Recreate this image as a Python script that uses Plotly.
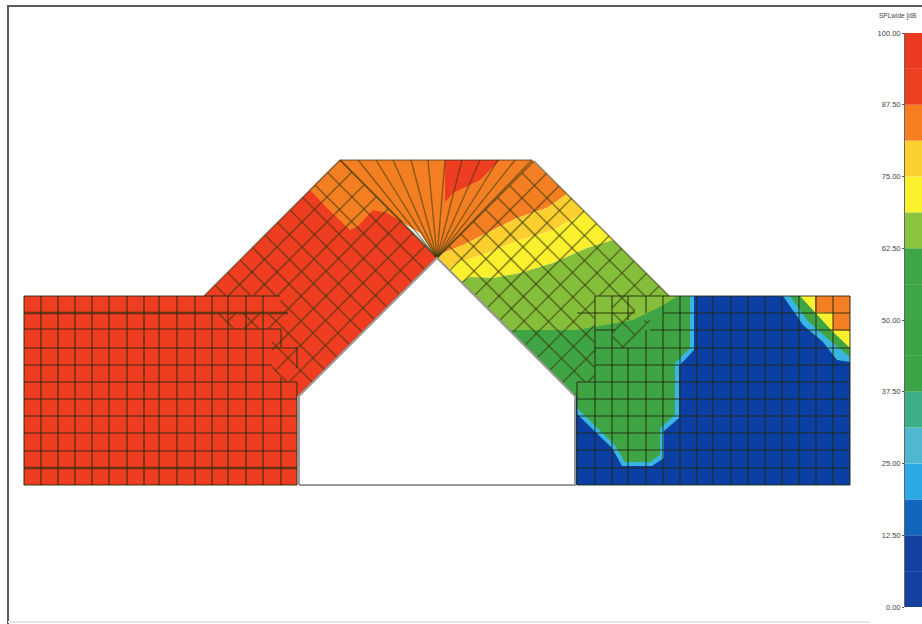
import numpy as np
import plotly.graph_objects as go

# ---- colour key (legend bands, bottom to top) ----
band_bottoms = [0, 6.25, 12.5, 18.75, 25, 31.25, 37.5, 43.75, 50, 56.25, 62.5, 68.75, 75, 81.25, 87.5, 93.75]
band_heights = [6.25] * 16
band_colors = ["#15409F", "#15409F", "#1266BE", "#29A9E6", "#4FB8D0", "#3DAE8A", "#3CA548", "#3CA548",
               "#3EA647", "#3EA647", "#8BC53F", "#FBF12E", "#FBD02E", "#F57F20", "#EE4020", "#EC3A21"]
tick_values = [0, 12.5, 25, 37.5, 50, 62.5, 75, 87.5, 100]
tick_labels = ["0.00", "12.50", "25.00", "37.50", "50.00", "62.50", "75.00", "87.50", "100.00"]

RED, ORANGE, GOLD, YELLOW, LIME, GREEN, SKY, BLUE = ("#EE3D20", "#F47F22", "#FBCF30", "#FAF02D",
                                                     "#84BE3B", "#3FA544", "#38B5E0", "#0C3FA3")

# ---- model outline ----
frame = [(8, 624), (8, 6), (922, 6)]
frame_bottom = [(8, 622), (870, 622)]
house = [(299, 485), (299, 396), (437, 258), (575, 396), (575, 485), (299, 485)]
roof_top = [(340, 160), (532, 160)]
apex = (437, 258)

# ---- contour zones ----
left_block = [(24, 296), (297, 296), (297, 485), (24, 485)]
roof_red = [(204, 296), (340, 160), (437, 258), (299, 396), (280, 396)]
roof_orange = [(340, 160), (532, 160), (567, 194), (547, 208), (517, 218), (487, 233), (463, 245), (443, 253),
               (437, 258), (420, 233), (387, 213), (373, 210), (357, 227), (350, 230), (327, 208), (310, 190)]
roof_wedge = [(445, 160), (500, 160), (480, 180), (453, 193), (445, 202)]
roof_gold = [(567, 194), (547, 208), (517, 218), (487, 233), (463, 245), (443, 253), (437, 258), (448, 269),
             (457, 263), (487, 253), (520, 240), (553, 230), (585, 212)]
roof_yellow = [(585, 212), (553, 230), (520, 240), (487, 253), (457, 263), (448, 269), (461, 282), (470, 277),
               (493, 278), (520, 273), (553, 263), (587, 248), (613, 240)]
roof_lime = [(613, 240), (587, 248), (553, 263), (520, 273), (493, 278), (470, 277), (461, 282), (510, 330),
             (577, 330), (607, 325), (633, 320), (660, 307), (678, 296), (669, 296)]
roof_green = [(510, 330), (580, 330), (580, 396), (575, 396)]
right_block = [(575, 296), (850, 296), (850, 485), (575, 485)]
right_sky = [(694, 296), (694, 350), (679, 366), (679, 418), (664, 431), (664, 458), (652, 466), (622, 466),
             (612, 448), (595, 431), (577, 414), (577, 296)]
right_green = [(690, 296), (690, 348), (675, 363), (675, 415), (660, 428), (660, 455), (650, 462), (625, 462),
               (615, 445), (598, 428), (577, 408), (577, 296)]
corner_sky = [(783, 296), (803, 325), (823, 342), (837, 360), (850, 362), (850, 296)]
corner_green = [(790, 296), (807, 320), (827, 338), (850, 357), (850, 296)]
corner_yellow = [(800, 296), (815, 312), (833, 332), (850, 348), (850, 296)]
corner_orange = [(815, 296), (815, 312), (833, 313), (833, 330), (850, 331), (850, 296)]

zones = [(left_block, RED), (roof_red, RED), (right_block, BLUE), (right_sky, SKY), (right_green, GREEN),
         (roof_green, GREEN), (corner_sky, SKY), (corner_green, GREEN), (corner_yellow, YELLOW),
         (corner_orange, ORANGE), (roof_orange, ORANGE), (roof_wedge, RED), (roof_gold, GOLD),
         (roof_yellow, YELLOW), (roof_lime, LIME)]

# ---- mesh ----
left_xs = [24, 41, 58, 75, 92, 109, 127, 144, 159, 177, 195, 212, 228, 246, 263]
left_ys = [296, 313, 329, 348, 365, 382, 399, 416, 433, 451, 468, 485]
left_h_end = [280, 288, 281, 297, 272, 297, 297, 297, 297, 297, 297, 297]
left_thick_ys = [313, 468]
left_x_short = [(281, 329, 347), (281, 378, 485), (297, 347, 368), (297, 382, 485)]

right_xs = [595, 612, 663, 680, 697, 713, 731, 748, 765, 782, 799, 816, 833, 850]
right_ys = [296, 348, 365, 382, 399, 416, 433, 450, 468, 485]
right_h_start = [595, 595, 595, 577, 577, 577, 577, 577, 577, 577]
right_x_short = [(577, 382, 485), (628, 296, 320), (628, 348, 485), (646, 296, 313), (646, 330, 485)]
right_stub = [(577, 635, 313), (663, 850, 313), (595, 615, 330), (650, 850, 330)]

fan_tops = [340, 358, 376, 393, 411, 428, 445, 462, 480, 498, 515, 532]

# diagonal mesh families: u = x - y, v = x + y
left_v = [500, 524, 549, 573, 597, 622, 646, 671, 695]
left_u = [-95, -70, -45, -20, 5, 30, 55, 80, 105, 130, 155, 180]
right_u = [179, 203, 227, 252, 276, 300, 324, 349, 373]
right_v = [695, 720, 745, 770, 795, 820, 845, 870, 895, 920, 945, 970]

left_hidden = [(24, 297, 382, 485), (24, 272, 329, 382), (24, 212, 296, 485), (212, 280, 296, 313), (281, 300, 382, 485)]
right_hidden = [(595, 850, 348, 485), (577, 850, 382, 485), (660, 850, 296, 348), (595, 612, 296, 348),
                (635, 660, 296, 320), (575, 850, 396, 485)]


def visible_runs(x0, y0, x1, y1, hidden):
    t = np.linspace(0, 1, 160)
    xs, ys = x0 + (x1 - x0) * t, y0 + (y1 - y0) * t
    keep = np.ones_like(t, dtype=bool)
    for a, b, c, d in hidden:
        keep &= ~((xs >= a) & (xs <= b) & (ys >= c) & (ys <= d))
    out_x, out_y = [], []
    on = False
    for i in range(len(t)):
        if keep[i]:
            if not on:
                out_x.append(float(xs[i])); out_y.append(float(ys[i])); on = True
            last = (float(xs[i]), float(ys[i]))
        elif on:
            out_x += [last[0], None]; out_y += [last[1], None]; on = False
    if on:
        out_x += [last[0], None]; out_y += [last[1], None]
    return out_x, out_y


diag_x, diag_y = [], []
for v in left_v:
    a, b = visible_runs((v + left_u[0]) / 2, (v - left_u[0]) / 2, (v + left_u[-1]) / 2, (v - left_u[-1]) / 2, left_hidden)
    diag_x += a; diag_y += b
for u in left_u:
    a, b = visible_runs((left_v[0] + u) / 2, (left_v[0] - u) / 2, (left_v[-1] + u) / 2, (left_v[-1] - u) / 2, left_hidden)
    diag_x += a; diag_y += b
for u in right_u:
    a, b = visible_runs((right_v[0] + u) / 2, (right_v[0] - u) / 2, (right_v[-1] + u) / 2, (right_v[-1] - u) / 2, right_hidden)
    diag_x += a; diag_y += b
for v in right_v:
    a, b = visible_runs((v + right_u[0]) / 2, (v - right_u[0]) / 2, (v + right_u[-1]) / 2, (v - right_u[-1]) / 2, right_hidden)
    diag_x += a; diag_y += b

fan_x, fan_y = [], []
for tx in fan_tops:
    fan_x += [apex[0], tx, None]; fan_y += [apex[1], roof_top[0][1], None]

grid_x, grid_y = [], []
for x in left_xs:
    grid_x += [x, x, None]; grid_y += [left_ys[0], left_ys[-1], None]
for x, a, b in left_x_short + right_x_short:
    grid_x += [x, x, None]; grid_y += [a, b, None]
for y, e in zip(left_ys, left_h_end):
    grid_x += [left_xs[0], e, None]; grid_y += [y, y, None]
for x in right_xs:
    grid_x += [x, x, None]; grid_y += [right_ys[0], right_ys[-1], None]
for y, s in zip(right_ys, right_h_start):
    grid_x += [s, right_xs[-1], None]; grid_y += [y, y, None]
for a, b, y in right_stub:
    grid_x += [a, b, None]; grid_y += [y, y, None]

thick_x, thick_y = [], []
for y in left_thick_ys:
    thick_x += [left_xs[0], 288 if y == 313 else 297, None]; thick_y += [y, y, None]

fig = go.Figure()


def add_poly(pts, color):
    fig.add_trace(go.Scatter(x=[p[0] for p in pts], y=[p[1] for p in pts], mode="lines", fill="toself",
                             fillcolor=color, line=dict(width=0, color=color), hoverinfo="skip"))


for pts, col in zones:
    add_poly(pts, col)

MESH = "rgba(55,55,15,0.55)"
fig.add_trace(go.Scatter(x=diag_x, y=diag_y, mode="lines", line=dict(color=MESH, width=1.6), hoverinfo="skip"))
fig.add_trace(go.Scatter(x=fan_x, y=fan_y, mode="lines", line=dict(color=MESH, width=1.4), hoverinfo="skip"))
fig.add_trace(go.Scatter(x=[p[0] for p in roof_top], y=[p[1] for p in roof_top], mode="lines",
                         line=dict(color="rgba(45,45,25,0.7)", width=1.2), hoverinfo="skip"))
fig.add_trace(go.Scatter(x=grid_x, y=grid_y, mode="lines", line=dict(color="rgba(35,40,15,0.6)", width=1.6), hoverinfo="skip"))
fig.add_trace(go.Scatter(x=thick_x, y=thick_y, mode="lines", line=dict(color="rgba(60,50,15,0.45)", width=3), hoverinfo="skip"))
fig.add_trace(go.Scatter(x=[p[0] for p in house], y=[p[1] for p in house], mode="lines", fill="toself",
                         fillcolor="white", line=dict(color="#9a9a9a", width=2), hoverinfo="skip"))
fig.add_trace(go.Scatter(x=[p[0] for p in frame], y=[p[1] for p in frame], mode="lines",
                         line=dict(color="#5c5c5c", width=2), hoverinfo="skip"))
fig.add_trace(go.Scatter(x=[p[0] for p in frame_bottom], y=[p[1] for p in frame_bottom], mode="lines",
                         line=dict(color="#dfe8ee", width=2), hoverinfo="skip"))

fig.add_trace(go.Bar(x=[0] * 16, y=band_heights, base=band_bottoms, width=1, marker=dict(color=band_colors, line=dict(width=0)),
                     xaxis="x2", yaxis="y2", hoverinfo="skip"))

fig.update_layout(
    width=922, height=624, autosize=False, showlegend=False,
    margin=dict(l=0, r=0, t=0, b=0, pad=0, autoexpand=False), paper_bgcolor="white", plot_bgcolor="rgba(0,0,0,0)",
    barmode="overlay",
    xaxis=dict(range=[0, 922], domain=[0, 1], visible=False, fixedrange=True),
    yaxis=dict(range=[624, 0], domain=[0, 1], visible=False, fixedrange=True),
    xaxis2=dict(range=[-0.5, 0.5], domain=[905 / 922, 1], anchor="y2", visible=False, fixedrange=True),
    yaxis2=dict(range=[0, 100], domain=[(624 - 607) / 624, (624 - 33) / 624], anchor="x2", side="left",
                tickmode="array", tickvals=tick_values, ticktext=tick_labels, showgrid=False, zeroline=False,
                ticks="outside", ticklen=2, tickcolor="#555", showline=True, linecolor="#666", linewidth=1,
                tickfont=dict(family="Liberation Sans", size=7.5, color="#444"), fixedrange=True),
    annotations=[dict(text="SPLwide [dB", x=877, y=16, xref="x", yref="y", xanchor="left", yanchor="middle",
                      showarrow=False, font=dict(family="Liberation Sans", size=6.5, color="#444"))],
)
fig.write_html("out.html", config={"displayModeBar": False},
               post_script="document.body.style.margin='0';document.documentElement.style.overflow='hidden';")
